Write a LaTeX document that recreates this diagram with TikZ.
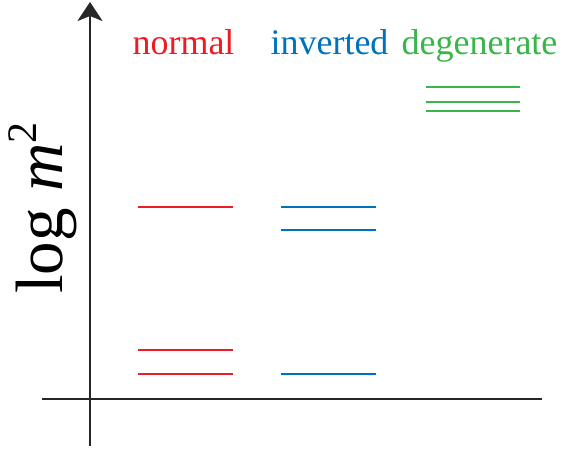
\documentclass[tikz,border=0pt]{standalone}
\usepackage{fontspec}
\setmainfont{Liberation Serif}
\usetikzlibrary{arrows.meta}
\definecolor{nred}{RGB}{237,28,36}
\definecolor{iblue}{RGB}{0,114,188}
\definecolor{dgreen}{RGB}{57,181,74}
\tikzset{
  level/.style={line width=2.7pt},
  axis/.style={line width=2.2pt, black!85},
  lbl/.style={anchor=base, inner sep=0pt, font=\fontsize{36}{36}\selectfont},
}
\begin{document}
\begin{tikzpicture}[x=1pt,y=-1pt]
\useasboundingbox (0,0) rectangle (582,450);
% axes
\coordinate (ybot) at (90,446);
\coordinate (ytop) at (90,2);
\coordinate (xl) at (42,399);
\coordinate (xr) at (542,399);
\draw[axis] (xl) -- (xr);
\draw[axis, -{Stealth[length=19pt, width=25pt, inset=5pt]}] (ybot) -- (ytop);
% labels
\node[lbl, text=nred] (tn) at (183.5,54) {normal};
\node[lbl, text=iblue] (ti) at (329.5,54) {inverted};
\node[lbl, text=dgreen] (td) at (479.5,54) {degenerate};
\node[anchor=base, inner sep=0pt, rotate=90, font=\fontsize{67}{67}\selectfont] (ylab) at (63,208) {log \textit{m}\raisebox{0.4em}{\fontsize{42}{42}\selectfont 2}};
% normal
\draw[level, nred] (138,207) -- (233,207);
\draw[level, nred] (138,350) -- (233,350);
\draw[level, nred] (138,374) -- (233,374);
% inverted
\draw[level, iblue] (281,207) -- (376,207);
\draw[level, iblue] (281,230) -- (376,230);
\draw[level, iblue] (281,374) -- (376,374);
% degenerate
\draw[level, dgreen] (426,87) -- (520,87);
\draw[level, dgreen] (426,102) -- (520,102);
\draw[level, dgreen] (426,111) -- (520,111);
\end{tikzpicture}
\end{document}
